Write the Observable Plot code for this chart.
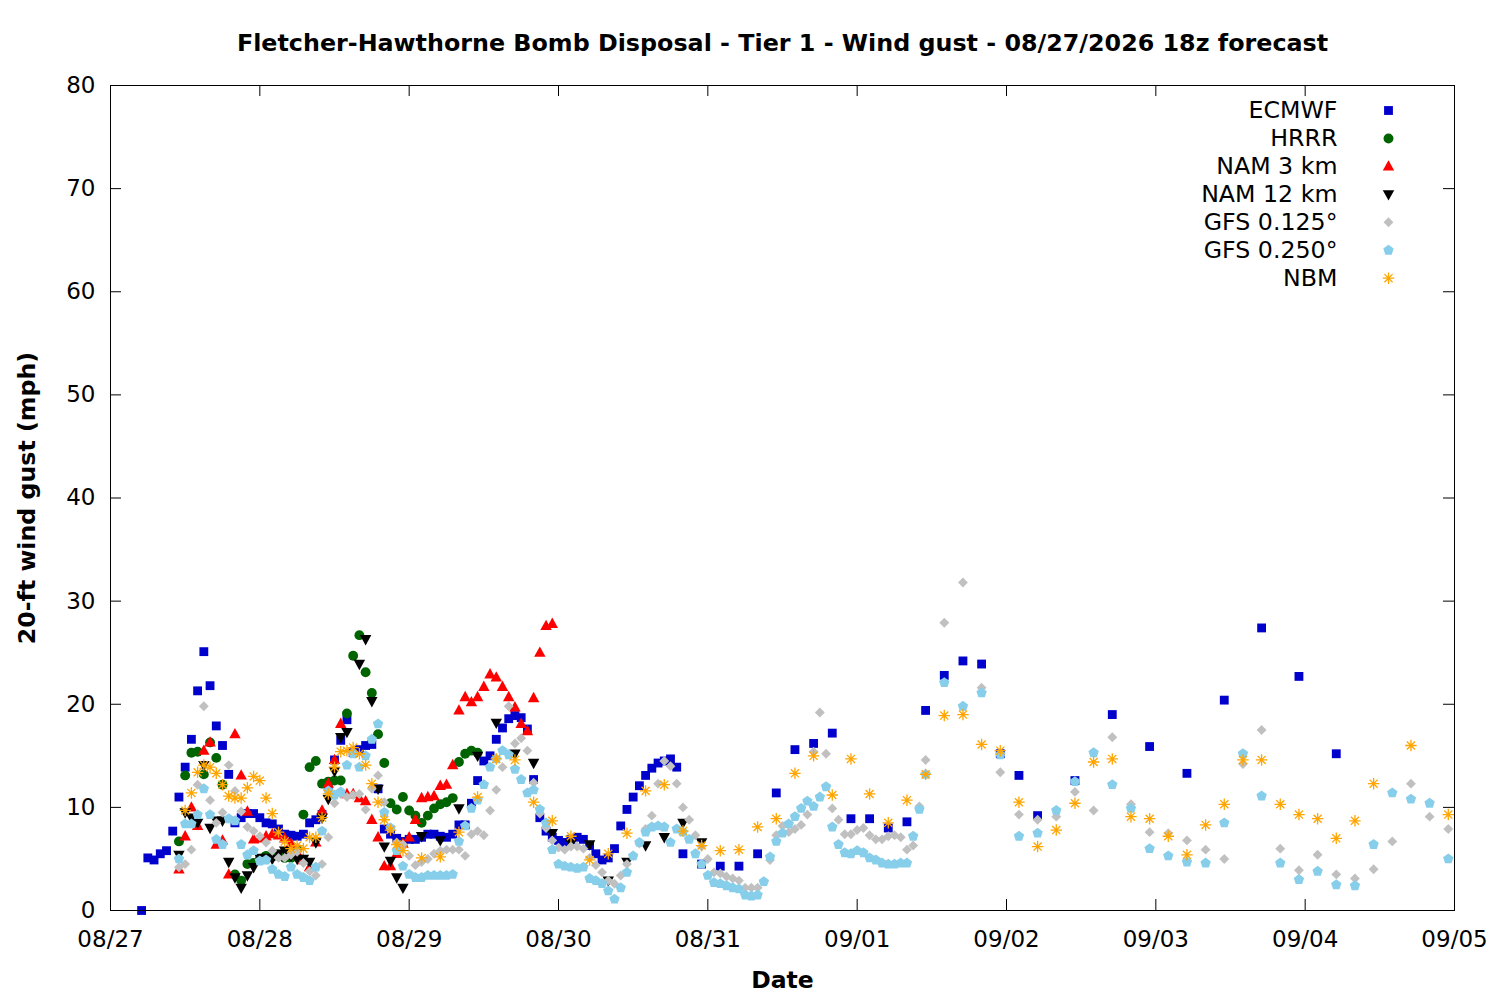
<!DOCTYPE html>
<html><head><meta charset="utf-8">
<script src="https://cdn.jsdelivr.net/npm/d3@7"></script>
<script src="https://cdn.jsdelivr.net/npm/@observablehq/plot@0.6"></script>
<style>
html,body{margin:0;padding:0;background:#fff;}
#chart{width:1500px;height:1000px;}
</style></head><body><div id="chart"></div>
<script>
// ---- data: [hour since 08/27 00:00, gust mph] ----
const ecmwf = [[5,0],[6,5.1],[7,4.9],[8,5.5],[9,5.8],[10,7.7],[11,11.0],[12,13.9],[13,16.6],[14,21.3],[15,25.1],[16,21.8],[17,17.9],[18,16.0],[19,13.2],[20,8.5],[21,9.0],[22,9.4],[23,9.4],[24,9.0],[25,8.5],[26,8.4],[27,7.9],[28,7.4],[29,7.3],[30,7.2],[31,7.4],[32,8.5],[33,8.8],[34,9.3],[35,12.0],[36,14.6],[37,16.5],[38,18.5],[39,15.3],[40,15.6],[41,16.0],[42,16.1],[43,11.8],[44,7.9],[45,7.4],[46,7.0],[47,6.7],[48,6.9],[49,6.9],[50,7.1],[51,7.4],[52,7.4],[53,7.2],[54,7.1],[55,7.4],[56,8.3],[57,8.3],[58,10.4],[59,12.6],[60,14.5],[61,15.0],[62,16.6],[63,17.7],[64,18.6],[65,18.9],[66,18.7],[67,17.6],[68,12.7],[69,9.0],[70,7.7],[71,7.1],[72,6.8],[73,6.6],[74,6.9],[75,7.1],[76,6.9],[77,6.3],[78,5.5],[79,4.9],[80,5.1],[81,6.0],[82,8.2],[83,9.8],[84,11.0],[85,12.1],[86,13.1],[87,13.8],[88,14.3],[89,14.5],[90,14.7],[91,13.9],[92,5.5],[95,4.5],[98,4.3],[101,4.3],[104,5.5],[107,11.4],[110,15.6],[113,16.2],[116,17.2],[119,8.9],[122,8.9],[125,8.0],[128,8.6],[131,19.4],[134,22.8],[137,24.2],[140,23.9],[143,15.2],[146,13.1],[149,9.2],[155,12.6],[161,19.0],[167,15.9],[173,13.3],[179,20.4],[185,27.4],[191,22.7],[197,15.2]];
const hrrr = [[11,6.7],[12,13.1],[13,15.3],[14,15.4],[15,13.2],[16,16.3],[17,14.8],[18,12.2],[20,3.5],[21,2.9],[22,4.5],[23,4.6],[24,5.0],[25,5.3],[26,5.2],[27,5.4],[28,5.1],[29,5.1],[30,5.9],[31,9.3],[32,13.9],[33,14.5],[34,12.3],[35,12.5],[36,12.6],[37,12.6],[38,19.1],[39,24.7],[40,26.7],[41,23.1],[42,21.1],[43,17.1],[44,14.3],[45,10.4],[46,9.8],[47,11.0],[48,9.7],[49,9.2],[50,8.5],[51,9.2],[52,9.9],[53,10.3],[54,10.5],[55,10.9],[56,14.4],[57,15.2],[58,15.5],[59,15.3]];
const nam3 = [[11,4.0],[12,7.2],[13,10.0],[14,8.2],[15,15.5],[16,16.3],[17,6.4],[18,6.8],[19,3.5],[20,17.1],[21,13.1],[22,9.6],[23,6.9],[24,7.0],[25,7.2],[26,7.4],[27,7.3],[28,7.0],[29,6.5],[30,5.6],[31,4.9],[32,4.2],[33,6.6],[34,9.7],[35,12.3],[36,14.6],[37,18.1],[38,11.3],[39,11.3],[40,10.9],[41,10.6],[42,8.8],[43,7.1],[44,4.3],[45,4.3],[46,5.5],[47,6.5],[48,7.1],[49,8.8],[50,10.9],[51,11.0],[52,11.1],[53,12.1],[54,12.2],[55,14.1],[56,19.4],[57,20.7],[58,20.2],[59,20.7],[60,21.7],[61,22.9],[62,22.6],[63,21.7],[64,20.7],[65,19.7],[66,18.1],[67,17.4],[68,20.6],[69,25.0],[70,27.6],[71,27.8]];
const nam12 = [[11,5.4],[12,9.5],[13,9.0],[14,8.5],[15,14.1],[16,8.0],[17,8.7],[18,8.7],[19,4.7],[20,3.2],[21,2.2],[22,3.4],[23,4.2],[24,5.1],[25,5.1],[26,5.0],[27,5.5],[28,5.8],[29,5.3],[30,5.0],[31,5.0],[32,4.7],[33,6.6],[34,9.0],[35,10.8],[36,13.5],[37,16.8],[38,17.3],[40,23.9],[41,26.3],[42,20.3],[43,11.8],[44,6.2],[45,4.8],[46,3.2],[47,2.2],[50,7.2],[53,6.8],[56,9.9],[59,15.0],[62,18.2],[65,15.2],[68,14.3],[71,7.5],[74,6.5],[77,6.4],[80,2.9],[83,4.7],[86,6.3],[89,7.1],[92,8.5],[95,6.6]];
const gfs0125 = [[11,4.2],[12,4.5],[13,5.9],[14,12.2],[15,19.8],[16,10.7],[17,8.5],[18,9.5],[19,14.1],[20,11.6],[21,9.6],[22,8.1],[23,7.7],[24,7.2],[25,6.6],[26,5.8],[27,5.1],[28,5.1],[29,5.4],[30,5.7],[31,4.6],[32,3.8],[33,3.4],[34,4.5],[35,7.1],[36,10.4],[37,11.3],[38,11.0],[39,11.2],[40,11.3],[41,9.8],[42,11.8],[43,13.1],[44,10.5],[45,8.0],[46,6.6],[47,6.4],[48,5.3],[49,4.4],[50,4.7],[51,5.0],[52,5.5],[53,5.8],[54,5.9],[55,5.9],[56,5.9],[57,5.3],[58,7.4],[59,7.7],[60,7.3],[61,9.7],[62,11.7],[63,13.9],[64,19.8],[65,16.2],[66,16.7],[67,15.5],[68,12.4],[69,9.4],[70,8.0],[71,6.8],[72,6.1],[73,5.9],[74,6.2],[75,6.2],[76,6.0],[77,5.1],[78,4.4],[79,3.7],[80,2.9],[81,2.6],[82,3.4],[83,4.5],[84,5.3],[85,6.5],[86,7.9],[87,9.2],[88,12.3],[89,14.5],[90,14.0],[91,12.3],[92,10.0],[93,8.8],[94,7.3],[95,6.2],[96,5.0],[97,3.7],[98,3.6],[99,3.3],[100,3.1],[101,2.9],[102,2.2],[103,2.2],[104,2.2],[105,2.8],[106,4.9],[107,7.3],[108,8.2],[109,7.6],[110,7.9],[111,8.3],[112,9.3],[113,15.4],[114,19.2],[115,15.2],[116,9.9],[117,8.8],[118,7.4],[119,7.4],[120,7.8],[121,8.0],[122,7.3],[123,6.9],[124,6.9],[125,7.2],[126,7.3],[127,7.1],[128,5.9],[129,6.3],[130,10.1],[131,14.6],[134,27.9],[137,31.8],[140,21.6],[143,13.4],[146,9.3],[149,8.8],[152,9.1],[155,11.5],[158,9.7],[161,16.8],[164,10.3],[167,7.6],[170,7.5],[173,6.8],[176,5.9],[179,5.0],[182,14.2],[185,17.5],[188,6.0],[191,3.9],[194,5.4],[197,3.5],[200,3.1],[203,4.0],[206,6.7],[209,12.3],[212,9.1],[215,7.9]];
const gfs0250 = [[11,5.0],[12,8.4],[13,8.4],[14,9.3],[15,11.8],[16,9.3],[17,6.9],[18,6.4],[19,8.9],[20,8.7],[21,6.4],[22,5.4],[23,5.8],[24,4.8],[25,4.9],[26,4.0],[27,3.5],[28,3.3],[29,4.2],[30,3.5],[31,3.2],[32,2.9],[33,4.2],[34,7.7],[35,11.6],[36,11.2],[37,11.5],[38,14.1],[39,15.2],[40,13.9],[41,15.0],[42,16.6],[43,18.1],[44,9.5],[45,8.0],[46,5.8],[47,4.3],[48,3.5],[49,3.2],[50,3.2],[51,3.4],[52,3.4],[53,3.4],[54,3.4],[55,3.5],[56,6.7],[57,8.2],[58,9.9],[59,10.7],[60,12.2],[61,13.9],[62,14.7],[63,15.5],[64,15.1],[65,13.7],[66,12.7],[67,11.4],[68,11.7],[69,9.8],[70,8.5],[71,5.9],[72,4.5],[73,4.3],[74,4.2],[75,4.1],[76,4.2],[77,3.1],[78,2.9],[79,2.6],[80,1.9],[81,1.1],[82,2.2],[83,3.7],[84,5.3],[85,6.6],[86,7.6],[87,8.1],[88,8.2],[89,8.1],[90,6.6],[91,7.9],[92,7.6],[93,6.9],[94,5.5],[95,4.5],[96,3.4],[97,2.7],[98,2.6],[99,2.4],[100,2.2],[101,2.1],[102,1.5],[103,1.4],[104,1.5],[105,2.8],[106,5.2],[107,6.7],[108,7.5],[109,8.4],[110,9.1],[111,9.9],[112,10.6],[113,10.1],[114,11.0],[115,12.0],[116,8.1],[117,6.4],[118,5.6],[119,5.5],[120,5.8],[121,5.6],[122,5.1],[123,4.9],[124,4.6],[125,4.5],[126,4.5],[127,4.6],[128,4.6],[129,7.2],[130,9.8],[131,13.2],[134,22.1],[137,19.8],[140,21.1],[143,15.1],[146,7.2],[149,7.5],[152,9.7],[155,12.5],[158,15.3],[161,12.2],[164,9.9],[167,6.0],[170,5.3],[173,4.7],[176,4.6],[179,8.5],[182,15.2],[185,11.1],[188,4.6],[191,3.0],[194,3.8],[197,2.5],[200,2.4],[203,6.4],[206,11.4],[209,10.8],[212,10.4],[215,5.0]];
const nbm = [[12,9.7],[13,11.4],[14,13.4],[15,14.1],[16,13.9],[17,13.3],[18,12.2],[19,11.1],[20,10.9],[21,10.9],[22,11.9],[23,13.0],[24,12.6],[25,10.9],[26,9.4],[27,7.6],[28,6.7],[29,6.0],[30,6.3],[31,6.0],[32,7.1],[33,7.1],[34,9.0],[35,11.3],[36,13.9],[37,15.4],[38,15.5],[39,15.8],[40,15.2],[41,14.1],[42,12.3],[43,10.5],[44,8.8],[45,7.8],[46,6.4],[47,5.8],[50,5.1],[53,5.2],[56,7.6],[59,11.0],[62,14.7],[65,14.6],[68,10.5],[71,8.7],[74,7.2],[77,4.9],[80,5.5],[83,7.5],[86,11.6],[89,12.2],[92,7.7],[95,6.3],[98,5.8],[101,5.9],[104,8.1],[107,8.9],[110,13.3],[113,15.0],[116,11.2],[119,14.7],[122,11.3],[125,8.5],[128,10.7],[131,13.2],[134,18.9],[137,19.0],[140,16.1],[143,15.5],[146,10.5],[149,6.2],[152,7.8],[155,10.4],[158,14.4],[161,14.7],[164,9.1],[167,8.9],[170,7.2],[173,5.4],[176,8.3],[179,10.3],[182,14.6],[185,14.6],[188,10.3],[191,9.3],[194,8.9],[197,7.0],[200,8.7],[203,12.3],[209,16.0],[215,9.3]];

const seriesNames = ["ECMWF","HRRR","NAM 3 km","NAM 12 km","GFS 0.125°","GFS 0.250°","NBM"];
const seriesColors = ["#0000cc","#006400","#ff0000","#000000","#c0c0c0","#87ceeb","#ffa500"];
const xTickLabels = ["08/27","08/28","08/29","08/30","08/31","09/01","09/02","09/03","09/04","09/05"];
const yTicks = [0,10,20,30,40,50,60,70,80];
const titleText = "Fletcher-Hawthorne Bomb Disposal - Tier 1 - Wind gust - 08/27/2026 18z forecast";
const yLabel = "20-ft wind gust (mph)";
const xLabel = "Date";

// ---- helpers ----
const t0 = Date.UTC(2026, 7, 27);
const toDate = h => new Date(t0 + h * 3600e3);
const xTicks = xTickLabels.map(s => { const [m, d] = s.split("/").map(Number); return new Date(Date.UTC(2026, m - 1, d)); });

const R = s => Math.sqrt(s / Math.PI);
const symSquare = {draw(c, s) { const r = R(s) * 0.85; c.rect(-r, -r, 2 * r, 2 * r); }};
const symCircle = {draw(c, s) { const r = R(s) * 0.95; c.moveTo(r, 0); c.arc(0, 0, r, 0, 2 * Math.PI); }};
const symTriUp = {draw(c, s) { const r = R(s); c.moveTo(0, -1.2 * r); c.lineTo(1.1 * r, 0.8 * r); c.lineTo(-1.1 * r, 0.8 * r); c.closePath(); }};
const symTriDown = {draw(c, s) { const r = R(s); c.moveTo(0, 1.2 * r); c.lineTo(1.1 * r, -0.8 * r); c.lineTo(-1.1 * r, -0.8 * r); c.closePath(); }};
const symDiamond = {draw(c, s) { const r = R(s) * 0.95; c.moveTo(0, -r); c.lineTo(r, 0); c.lineTo(0, r); c.lineTo(-r, 0); c.closePath(); }};
const symPentagon = {draw(c, s) { const r = R(s) * 1.05; for (let i = 0; i < 5; i++) { const a = -Math.PI / 2 + i * 2 * Math.PI / 5; const x = r * Math.cos(a), y = r * Math.sin(a); if (i) c.lineTo(x, y); else c.moveTo(x, y); } c.closePath(); }};
const symAster = {draw(c, s) { const r = R(s) * 1.1; for (let i = 0; i < 4; i++) { const a = i * Math.PI / 4; c.moveTo(-r * Math.cos(a), -r * Math.sin(a)); c.lineTo(r * Math.cos(a), r * Math.sin(a)); } }};

const allSeries = [ecmwf, hrrr, nam3, nam12, gfs0125, gfs0250, nbm];
const symbols = [symSquare, symCircle, symTriUp, symTriDown, symDiamond, symPentagon, symAster];

const W = 1500, H = 1000, mL = 110, mR = 46, mT = 85, mB = 90;
const innerW = W - mL - mR, innerH = H - mT - mB;
const tickLen = 11;
const FS = 23;
const MR = 5.2;

const marks = [];
// inward ticks
marks.push(Plot.tickX(xTicks.slice(1, -1), {x: d => d, insetTop: innerH - tickLen, stroke: "black"}));
marks.push(Plot.tickX(xTicks.slice(1, -1), {x: d => d, insetBottom: innerH - tickLen, stroke: "black"}));
marks.push(Plot.tickY(yTicks.slice(1, -1), {y: d => d, insetRight: innerW - tickLen, stroke: "black"}));
marks.push(Plot.tickY(yTicks.slice(1, -1), {y: d => d, insetLeft: innerW - tickLen, stroke: "black"}));

allSeries.forEach((data, i) => {
  const isStroke = symbols[i] === symAster;
  marks.push(Plot.dot(data, {
    x: d => toDate(d[0]), y: d => d[1], symbol: symbols[i], r: MR,
    fill: isStroke ? "none" : seriesColors[i],
    stroke: isStroke ? seriesColors[i] : "none",
    strokeWidth: isStroke ? 1.3 : 0
  }));
});

marks.push(Plot.frame({stroke: "black", strokeWidth: 1}));
marks.push(Plot.axisX({ticks: xTicks, tickFormat: d3.utcFormat("%m/%d"), tickSize: 0, tickPadding: 20, fontSize: FS, label: null}));
marks.push(Plot.axisY({ticks: yTicks, tickSize: 0, tickPadding: 15, fontSize: FS, label: null}));

// legend
seriesNames.forEach((name, i) => {
  const dy = 25 + 27.95 * i;
  marks.push(Plot.text([name], {frameAnchor: "top-right", dx: -117, dy, text: d => d, textAnchor: "end", lineAnchor: "middle", fontSize: 23.7, fill: "black"}));
  const isStroke = symbols[i] === symAster;
  marks.push(Plot.dot([name], {frameAnchor: "top-right", dx: -66, dy, symbol: symbols[i], r: MR,
    fill: isStroke ? "none" : seriesColors[i], stroke: isStroke ? seriesColors[i] : "none", strokeWidth: isStroke ? 1.3 : 0}));
});

// titles
marks.push(Plot.text([titleText], {frameAnchor: "top", dy: -42, text: d => d, textAnchor: "middle", lineAnchor: "middle", fontWeight: "bold", fontSize: 23.8, fill: "black"}));
marks.push(Plot.text([xLabel], {frameAnchor: "bottom", dy: 70, text: d => d, textAnchor: "middle", lineAnchor: "middle", fontWeight: "bold", fontSize: 23.5, fill: "black"}));
marks.push(Plot.text([yLabel], {frameAnchor: "left", dx: -83, rotate: -90, text: d => d, textAnchor: "middle", lineAnchor: "middle", fontWeight: "bold", fontSize: 23.7, fill: "black"}));

const chart = Plot.plot({
  width: W, height: H,
  marginLeft: mL, marginRight: mR, marginTop: mT, marginBottom: mB,
  x: {type: "utc", domain: [xTicks[0], xTicks[xTicks.length - 1]]},
  y: {domain: [0, 80]},
  style: {fontFamily: "'DejaVu Sans', sans-serif", fontSize: FS + "px", color: "black", background: "white"},
  marks
});
document.getElementById("chart").appendChild(chart);
</script>
</body></html>
